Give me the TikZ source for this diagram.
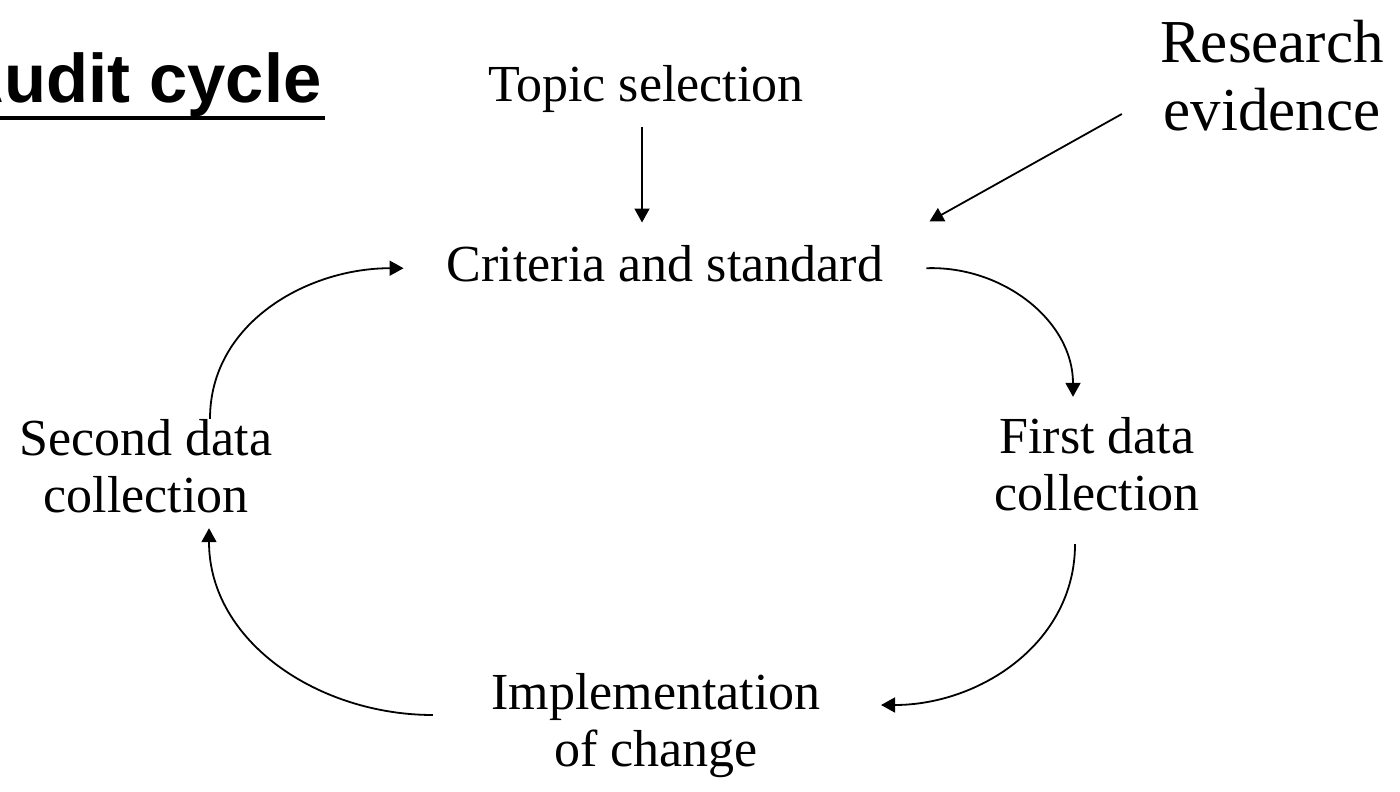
\documentclass[tikz,border=0pt]{standalone}
\usepackage{fontspec}
\setmainfont{Liberation Serif}
\newfontfamily\headfont{Liberation Sans}
\usetikzlibrary{arrows.meta}

\tikzset{
  stage/.style={inner sep=0pt, align=center, font=\fontsize{26}{28.5}\selectfont},
  arr/.style={line width=0.9pt, -{Triangle[length=7pt,width=7.5pt]}}
}

\begin{document}
\begin{tikzpicture}[x=0.5pt, y=-0.5pt]
  \useasboundingbox (0,0) rectangle (1400,791);

  % title, the A runs off the left edge
  \node[inner sep=0pt, anchor=base east, font=\headfont\bfseries\fontsize{34.4}{40}\selectfont] (title) at (322,103) {Audit cycle};
  \draw[line width=2pt] ([yshift=-7.5pt]title.base west) -- ([yshift=-7.5pt,xshift=1.5pt]title.base east);

  % inputs
  \node[stage, anchor=base] (topic) at (646,102) {Topic selection};
  \node[inner sep=0pt, align=center, font=\fontsize{30.5}{34}\selectfont] (research) at (1272,76) {Research\\evidence};

  % the cycle
  \node[stage, anchor=base] (criteria) at (665,281) {Criteria and standard};
  \node[stage] (first) at (1097,464) {First data\\collection};
  \node[stage] (impl) at (656,726) {Implementation\\of change};
  \node[stage] (second) at (146,466) {Second data\\collection};

  \draw[arr] ([xshift=-2pt,yshift=-7pt]topic.south) -- ([xshift=-2pt,yshift=11pt]topic.south |- criteria.north);
  \draw[arr] ([xshift=-19pt,yshift=-19pt]research.west) -- ([xshift=23pt,yshift=11.5pt]criteria.north east);

  \draw[arr] ([xshift=21.5pt,yshift=-2.5pt]criteria.east) to[out=2, in=90] ([xshift=-12pt,yshift=10pt]first.north);
  \draw[arr] ([xshift=-11pt,yshift=-16.5pt]first.south) to[out=-90, in=0] ([xshift=30pt,yshift=10.5pt]impl.east);
  \draw[arr] ([xshift=-29pt,yshift=5.5pt]impl.west) to[out=180, in=-90] ([xshift=31.5pt,yshift=-7.5pt]second.south);
  \draw[arr] ([xshift=32pt]second.north) to[out=90, in=180] ([xshift=-21.5pt,yshift=-2.5pt]criteria.west);
\end{tikzpicture}
\end{document}
